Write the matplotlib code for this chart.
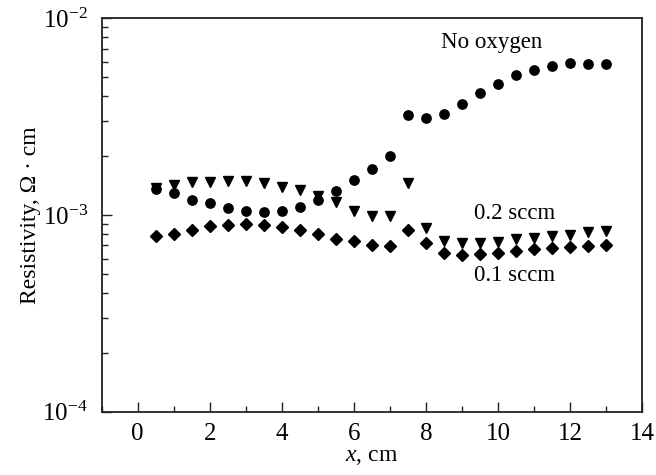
import matplotlib
matplotlib.use("Agg")
import matplotlib.pyplot as plt
from matplotlib.ticker import LogLocator, NullFormatter, MultipleLocator

plt.rcParams['font.family'] = ['Liberation Serif', 'DejaVu Serif']
plt.rcParams['mathtext.fontset'] = 'custom'
plt.rcParams['mathtext.rm'] = 'Liberation Serif'
plt.rcParams['mathtext.it'] = 'Liberation Serif:italic'

# positions along the sample, cm
x_cm = [0.5, 1.0, 1.5, 2.0, 2.5, 3.0, 3.5, 4.0, 4.5, 5.0, 5.5, 6.0, 6.5,
        7.0, 7.5, 8.0, 8.5, 9.0, 9.5, 10.0, 10.5, 11.0, 11.5, 12.0, 12.5, 13.0]

# resistivity, Ohm*cm
no_oxygen = [1.36e-3, 1.30e-3, 1.19e-3, 1.15e-3, 1.08e-3, 1.05e-3, 1.04e-3, 1.05e-3,
             1.10e-3, 1.19e-3, 1.32e-3, 1.50e-3, 1.71e-3, 2.00e-3, 3.22e-3, 3.10e-3,
             3.24e-3, 3.68e-3, 4.14e-3, 4.65e-3, 5.12e-3, 5.43e-3, 5.69e-3, 5.93e-3,
             5.86e-3, 5.82e-3]
sccm_02 = [1.37e-3, 1.42e-3, 1.47e-3, 1.47e-3, 1.48e-3, 1.48e-3, 1.46e-3, 1.39e-3,
           1.34e-3, 1.25e-3, 1.16e-3, 1.05e-3, 0.985e-3, 0.99e-3, 1.45e-3, 0.857e-3,
           0.74e-3, 0.72e-3, 0.72e-3, 0.725e-3, 0.752e-3, 0.76e-3, 0.778e-3, 0.793e-3,
           0.818e-3, 0.83e-3]
sccm_01 = [0.78e-3, 0.80e-3, 0.837e-3, 0.877e-3, 0.887e-3, 0.90e-3, 0.89e-3, 0.867e-3,
           0.834e-3, 0.796e-3, 0.751e-3, 0.734e-3, 0.706e-3, 0.695e-3, 0.843e-3, 0.72e-3,
           0.638e-3, 0.629e-3, 0.632e-3, 0.644e-3, 0.654e-3, 0.669e-3, 0.683e-3, 0.69e-3,
           0.695e-3, 0.70e-3]

fig = plt.figure(figsize=(6.56, 4.75), dpi=100)
ax = fig.add_axes([0.155, 0.133, 0.824, 0.829])

ax.plot(x_cm, sccm_02, linestyle='none', marker='v', markersize=7, color='black')
ax.plot(x_cm, sccm_01, linestyle='none', marker='D', markersize=6, color='black')
ax.plot(x_cm, no_oxygen, linestyle='none', marker='o', markersize=6.7, color='black')

ax.set_yscale('log')
ax.set_xlim(-1, 14)
ax.set_ylim(1e-4, 1e-2)
ax.xaxis.set_major_locator(MultipleLocator(2))
ax.xaxis.set_minor_locator(MultipleLocator(1))
ax.yaxis.set_major_locator(LogLocator(base=10, numticks=5))
ax.yaxis.set_minor_locator(LogLocator(base=10, subs=range(2, 10), numticks=20))
ax.yaxis.set_minor_formatter(NullFormatter())

ax.tick_params(which='both', direction='in', top=False, right=False,
               labelsize=18, width=1, color='#222222')
ax.tick_params(which='major', length=7)
ax.tick_params(which='minor', length=4.5)
ax.tick_params(axis='x', pad=8)
ax.tick_params(axis='y', pad=10)
for s in ax.spines.values():
    s.set_linewidth(1.3)
    s.set_color('#222222')

ax.set_xlabel(r'$x$, cm', fontsize=17, labelpad=1)
ax.set_ylabel('Resistivity, Ω · cm', fontsize=17, labelpad=1)

ax.text(9.83, 7.5e-3, 'No oxygen', fontsize=16.5, ha='center', va='center')
ax.text(10.45, 1.02e-3, '0.2 sccm', fontsize=16.5, ha='center', va='center')
ax.text(10.45, 4.93e-4, '0.1 sccm', fontsize=16.5, ha='center', va='center')

fig.savefig('out.png', dpi=100)
